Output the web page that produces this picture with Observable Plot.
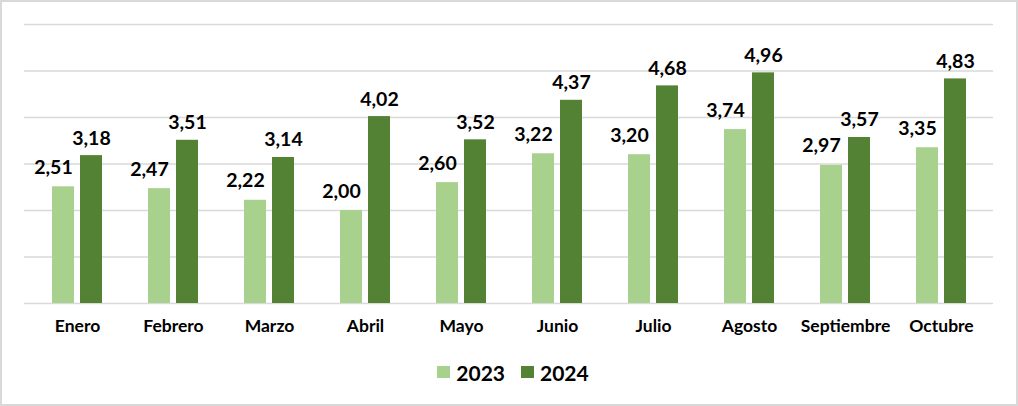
<!DOCTYPE html>
<html>
<head>
<meta charset="utf-8">
<script src="https://cdn.jsdelivr.net/npm/d3@7"></script>
<script src="https://cdn.jsdelivr.net/npm/@observablehq/plot@0.6"></script>
<style>
  html, body { margin: 0; padding: 0; background: #fff; }
  #wrap { position: relative; width: 1018px; height: 406px; overflow: hidden; font-family: Lato, "Open Sans", sans-serif; }
  #border { position: absolute; left: 0; top: 0; width: 1018px; height: 406px; box-sizing: border-box; border: 2px solid #d9d9d9; pointer-events: none; }
  #legend { display: flex; justify-content: center; align-items: center; gap: 16px; height: 40px; padding-left: 8px; font-weight: bold; font-size: 21px; color: #000; }
  .item { display: flex; align-items: center; gap: 6px; }
  .sw { width: 13px; height: 12px; display: inline-block; }
  svg { display: block; }
</style>
</head>
<body>
<div id="wrap">
  <div id="chart"></div>
  <div id="legend"></div>
  <div id="border"></div>
</div>
<script>
const months = ["Enero", "Febrero", "Marzo", "Abril", "Mayo", "Junio", "Julio", "Agosto", "Septiembre", "Octubre"];
const values2023 = [2.51, 2.47, 2.22, 2.00, 2.60, 3.22, 3.20, 3.74, 2.97, 3.35];
const values2024 = [3.18, 3.51, 3.14, 4.02, 3.52, 4.37, 4.68, 4.96, 3.57, 4.83];
const yTicks = [0, 1, 2, 3, 4, 5, 6];
const seriesNames = ["2023", "2024"];
const colors = ["#a9d18e", "#548235"];

const d2023 = months.map((m, i) => ({month: m, value: values2023[i]}));
const d2024 = months.map((m, i) => ({month: m, value: values2024[i]}));
const fmt = v => v.toFixed(2).replace(".", ",");

const plot = Plot.plot({
  width: 1018,
  height: 352,
  marginLeft: 24,
  marginRight: 25,
  marginTop: 24,
  marginBottom: 49,
  style: {fontFamily: "Lato, 'Open Sans', sans-serif", background: "transparent"},
  x: {domain: months, paddingInner: 0.484, paddingOuter: 0.242, label: null, tickSize: 0, tickPadding: 16},
  y: {domain: [0, 6], axis: null},
  marks: [
    Plot.ruleY(yTicks, {stroke: "#d9d9d9", strokeWidth: 1.5}),
    Plot.barY(d2023, {x: "month", y: "value", fill: colors[0], insetRight: 28}),
    Plot.barY(d2024, {x: "month", y: "value", fill: colors[1], insetLeft: 28}),
    Plot.text(d2023, {x: "month", y: "value", text: d => fmt(d.value), dx: -24, dy: -13, lineAnchor: "bottom", fontSize: 19.5, fontWeight: "bold", fill: "#000"}),
    Plot.text(d2024, {x: "month", y: "value", text: d => fmt(d.value), dx: 14, dy: -11, lineAnchor: "bottom", fontSize: 19.5, fontWeight: "bold", fill: "#000"})
  ]
});
plot.querySelectorAll('g[aria-label="x-axis tick label"]').forEach(el => {
  el.setAttribute("font-weight", "bold");
  el.setAttribute("font-size", "17.5");
  el.setAttribute("fill", "#000");
});
document.getElementById("chart").appendChild(plot);

const legend = document.getElementById("legend");
seriesNames.forEach((n, i) => {
  const it = document.createElement("div");
  it.className = "item";
  const sw = document.createElement("span");
  sw.className = "sw";
  sw.style.background = colors[i];
  const t = document.createElement("span");
  t.textContent = n;
  it.appendChild(sw);
  it.appendChild(t);
  legend.appendChild(it);
});
</script>
</body>
</html>
